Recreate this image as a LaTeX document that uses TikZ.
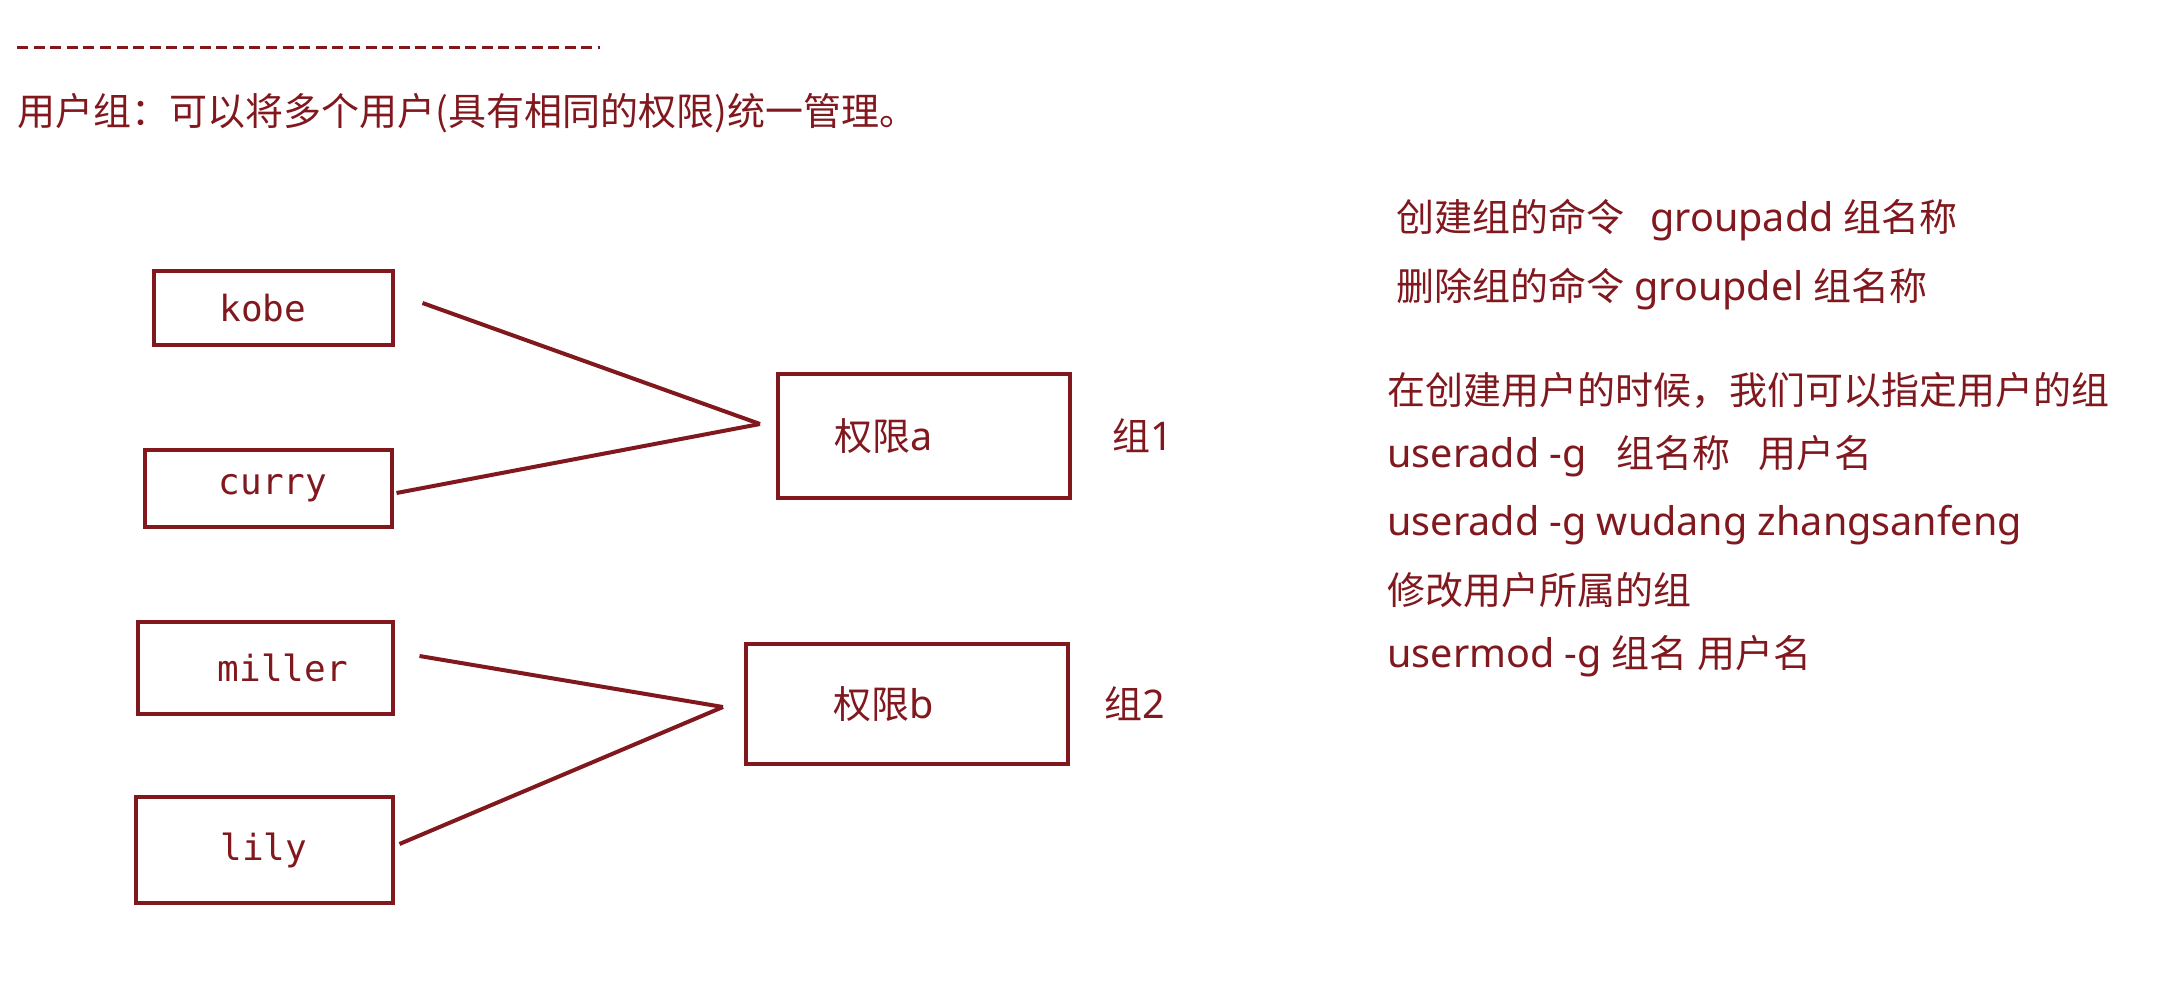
\documentclass[tikz,border=0pt]{standalone}
\usepackage{fontspec}
\setmainfont{Noto Sans CJK SC}
\newfontfamily\namefont{DejaVu Sans Mono}
\newfontfamily\latfont[Scale=1.04]{Noto Sans}
\newcommand\lat[1]{{\latfont #1}}
\usetikzlibrary{positioning,calc}
\definecolor{maroon}{RGB}{128,24,30}

\begin{document}
\begin{tikzpicture}[
x=0.5pt, y=-0.5pt,
node distance = 20pt and 20pt,
userbox/.style={rectangle, draw=maroon, line width=2pt, text=maroon, font=\namefont\fontsize{18}{18}\selectfont},
permbox/.style={rectangle, draw=maroon, line width=2pt, text=maroon, font=\fontsize{19}{19}\selectfont},
note/.style={anchor=west, inner sep=0pt, text=maroon, font=\fontsize{19}{19}\selectfont},
link/.style={draw=maroon, line width=2pt}]

\useasboundingbox (0,0) rectangle (2160,1006);

% heading
\draw[maroon, line width=1.5pt, dash pattern=on 5.5pt off 2.8pt] (17,48) -- (600,48);
\node[note] (title) at (17,113) {用户组：可以将多个用户(具有相同的权限)统一管理。};

% users
\node[userbox, minimum width=119.5pt, minimum height=37pt] (kobe) at (273,308) {kobe\kern10pt};
\node[userbox, minimum width=123.5pt, minimum height=38.5pt] (curry) at (268,488) {\kern5pt curry};
\node[userbox, minimum width=127.5pt, minimum height=46pt] (miller) at (265,668) {\kern18pt miller};
\node[userbox, minimum width=128.5pt, minimum height=53pt] (lily) at (264,850) {lily};

% groups
\node[permbox, minimum width=146pt, minimum height=62pt] (permA) at (924,436) {权限\lat{a}\kern40pt};
\node[permbox, minimum width=161pt, minimum height=60pt] (permB) at (907,704) {权限\lat{b}\kern23pt};
\node[note] (grp1) [right = 20pt of permA] {组\lat{1}};
\node[note] (grp2) [right = 17pt of permB] {组\lat{2}};

\coordinate (joinA) at (760,424);
\coordinate (joinB) at (723,707);

\draw[link] ($(kobe.east)+(28,-5)$) -- (joinA);
\draw[link] ($(curry.east)+(3,5)$) -- (joinA);
\draw[link] ($(miller.east)+(25,-12)$) -- (joinB);
\draw[link] ($(lily.east)+(5,-6)$) -- (joinB);

% commands
\node[note] (addgrp) at (1396,220) {创建组的命令\hspace{13pt}\lat{groupadd}\hspace{5pt}组名称};
\node[note] (delgrp) at (1396,289) {删除组的命令\hspace{5pt}\lat{groupdel}\hspace{5pt}组名称};
\node[note] (hint) at (1387,390) {在创建用户的时候，我们可以指定用户的组};
\node[note] (addusr) at (1387,456) {\lat{useradd -g}\hspace{15pt}组名称\hspace{14pt}用户名};
\node[note] (example) at (1387,525) {\lat{useradd -g wudang zhangsanfeng}};
\node[note] (modhint) at (1387,590) {修改用户所属的组};
\node[note] (modusr) at (1387,656) {\lat{usermod -g}\hspace{5pt}组名\hspace{5pt}用户名};
\end{tikzpicture}
\end{document}
